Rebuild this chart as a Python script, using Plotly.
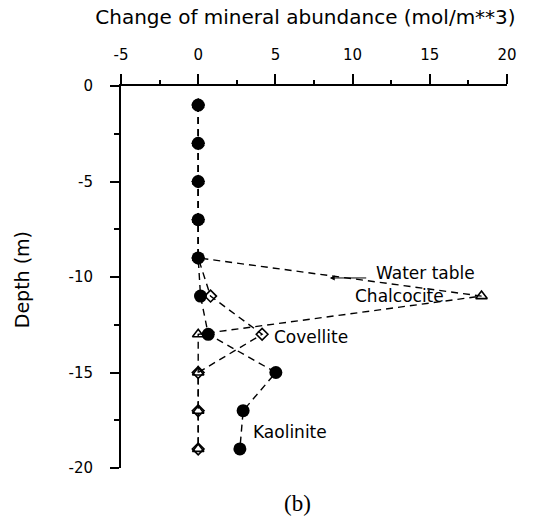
import plotly.graph_objects as go

depth = [-1, -3, -5, -7, -9, -11, -13, -15, -17, -19]
kaolinite = [0, 0, 0, 0, 0, 0.15, 0.65, 5.03, 2.91, 2.70]
chalcocite = [0, 0, 0, 0, 0, 18.35, 0, 0, 0, 0]
covellite = [0, 0, 0, 0, 0, 0.8, 4.14, 0, 0, 0]

x_ticks = [-5, 0, 5, 10, 15, 20]
y_ticks = [0, -5, -10, -15, -20]

FONT = "DejaVu Sans"

fig = go.Figure()
line_style = dict(color="black", width=1.4, dash="7px,5px")

fig.add_trace(go.Scatter(x=chalcocite, y=depth, mode="lines+markers", name="Chalcocite",
                         line=line_style,
                         marker=dict(symbol="triangle-up-open", size=10, color="black",
                                     line=dict(width=1.6, color="black"))))
fig.add_trace(go.Scatter(x=covellite, y=depth, mode="lines+markers", name="Covellite",
                         line=line_style,
                         marker=dict(symbol="diamond-open", size=9, color="black",
                                     line=dict(width=1.6, color="black"))))
fig.add_trace(go.Scatter(x=kaolinite, y=depth, mode="lines+markers", name="Kaolinite",
                         line=line_style,
                         marker=dict(symbol="circle", size=13, color="black")))

labels = [
    dict(text="Water table", x=11.36, y=-9.79),
    dict(text="Chalcocite", x=10.03, y=-10.99),
    dict(text="Covellite", x=4.75, y=-13.13),
    dict(text="Kaolinite", x=3.45, y=-18.1),
]
for lab in labels:
    fig.add_annotation(x=lab["x"], y=lab["y"], text=lab["text"], showarrow=False,
                       xanchor="left", yanchor="middle",
                       font=dict(family=FONT, size=17, color="black"))

# water table arrow
fig.add_annotation(x=8.52, y=-10.05, ax=10.98, ay=-10.05, axref="x", ayref="y",
                   text="", showarrow=True, arrowhead=2, arrowsize=1, arrowwidth=1,
                   arrowcolor="black")

fig.add_annotation(x=-0.256, y=0.492, xref="paper", yref="paper", text="Depth (m)",
                   textangle=-90, showarrow=False, xanchor="center", yanchor="middle",
                   font=dict(family=FONT, size=19, color="black"))
fig.add_annotation(x=0.457, y=-0.092, xref="paper", yref="paper", text="(b)",
                   showarrow=False, xanchor="center", yanchor="middle",
                   font=dict(family="Liberation Serif", size=23, color="black"))

fig.update_layout(
    width=534, height=521,
    margin=dict(l=121, r=27, t=86, b=53),
    paper_bgcolor="white", plot_bgcolor="white",
    showlegend=False,
    title=dict(text="Change of mineral abundance (mol/m**3)", x=0.572, xanchor="center",
               y=0.967, yanchor="middle", font=dict(family=FONT, size=20, color="black")),
    font=dict(family=FONT, size=15, color="black"),
)
fig.update_xaxes(side="top", range=[-5, 20], tickvals=x_ticks,
                 ticktext=[str(v) for v in x_ticks],
                 showgrid=False, zeroline=False, showline=True, linecolor="black",
                 linewidth=2, ticks="outside", ticklen=10, tickwidth=2, tickcolor="black",
                 ticklabelstandoff=8,
                 minor=dict(dtick=2.5, tick0=-5, ticks="outside", ticklen=4, tickwidth=1.5,
                            tickcolor="black"),
                 tickfont=dict(family=FONT, size=15))
fig.update_yaxes(range=[-20, 0], tickvals=y_ticks, ticktext=[str(v) for v in y_ticks],
                 showgrid=False, zeroline=False, showline=True, linecolor="black",
                 linewidth=2, ticks="outside", ticklen=9, tickwidth=2, tickcolor="black",
                 ticklabelstandoff=14,
                 minor=dict(dtick=2.5, tick0=0, ticks="outside", ticklen=5, tickwidth=1.5,
                            tickcolor="black"),
                 tickfont=dict(family=FONT, size=15))

fig.write_html("out.html")
